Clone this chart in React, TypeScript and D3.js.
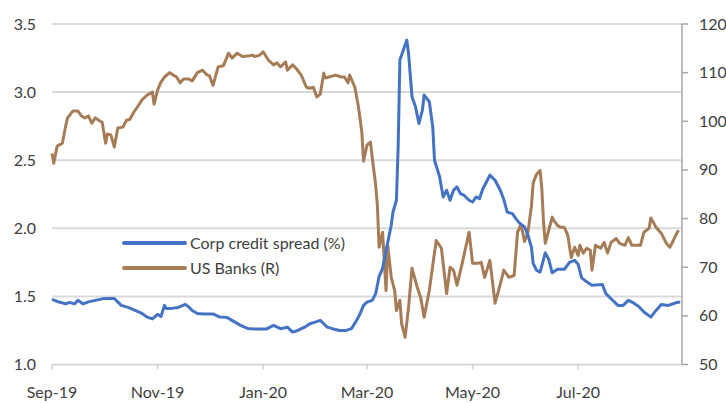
import React from "react";
import * as d3 from "d3";

// Dates are stored as day offsets from 2019-09-01
const START = new Date(2019, 8, 1);

const spreadDays = [0, 3, 8, 10, 13, 15, 18, 21, 25, 29, 32, 36, 40, 44, 48, 52, 55, 58, 61, 63, 65, 66, 69, 73, 77, 79, 81, 84, 88, 93, 97, 101, 104, 109, 113, 117, 120, 124, 128, 132, 136, 139, 142, 146, 149, 152, 155, 157, 159, 162, 166, 170, 173, 176, 178, 180, 182, 185, 187, 189, 191, 193, 196, 197, 199, 200, 201, 203, 205, 206, 208, 210, 212, 214, 215, 218, 220, 221, 224, 226, 228, 230, 232, 234, 236, 238, 241, 243, 245, 247, 249, 251, 253, 256, 259, 261, 263, 266, 268, 270, 273, 275, 277, 278, 280, 282, 285, 287, 289, 292, 296, 299, 302, 304, 306, 309, 312, 318, 320, 323, 327, 330, 333, 336, 339, 342, 346, 349, 352, 356, 359, 361, 363];
const spreadValues = [1.478, 1.463, 1.445, 1.456, 1.445, 1.471, 1.445, 1.46, 1.471, 1.482, 1.485, 1.485, 1.434, 1.419, 1.397, 1.375, 1.348, 1.335, 1.368, 1.353, 1.434, 1.412, 1.412, 1.419, 1.441, 1.423, 1.397, 1.375, 1.371, 1.371, 1.348, 1.346, 1.324, 1.287, 1.265, 1.261, 1.261, 1.261, 1.287, 1.263, 1.274, 1.238, 1.25, 1.274, 1.299, 1.311, 1.324, 1.299, 1.274, 1.263, 1.25, 1.25, 1.263, 1.324, 1.373, 1.434, 1.458, 1.471, 1.52, 1.647, 1.704, 1.838, 2.022, 2.118, 2.206, 2.598, 3.235, 3.309, 3.382, 3.285, 2.965, 2.892, 2.77, 2.868, 2.978, 2.929, 2.745, 2.5, 2.377, 2.23, 2.279, 2.206, 2.279, 2.304, 2.255, 2.243, 2.206, 2.193, 2.23, 2.218, 2.292, 2.34, 2.39, 2.353, 2.279, 2.213, 2.12, 2.108, 2.071, 2.04, 2.01, 1.949, 1.86, 1.743, 1.691, 1.679, 1.82, 1.772, 1.673, 1.699, 1.699, 1.75, 1.765, 1.735, 1.636, 1.607, 1.581, 1.588, 1.52, 1.483, 1.434, 1.434, 1.471, 1.452, 1.426, 1.385, 1.348, 1.397, 1.441, 1.434, 1.446, 1.456, 1.458];

const bankDays = [0, 1, 3, 6, 8, 9, 12, 15, 17, 19, 21, 23, 25, 27, 29, 31, 32, 34, 36, 38, 41, 43, 45, 47, 50, 52, 55, 58, 59, 61, 63, 65, 68, 70, 72, 74, 76, 79, 81, 84, 87, 89, 91, 93, 96, 99, 102, 104, 107, 110, 113, 116, 117, 120, 122, 125, 128, 130, 132, 135, 136, 139, 141, 144, 147, 149, 151, 153, 155, 157, 158, 160, 164, 167, 169, 171, 172, 175, 177, 179, 180, 182, 184, 185, 187, 188, 189, 191, 193, 194, 196, 198, 199, 201, 202, 203, 204, 206, 208, 211, 213, 215, 218, 220, 222, 225, 228, 230, 232, 234, 237, 241, 243, 246, 248, 250, 253, 256, 258, 260, 261, 264, 267, 269, 271, 273, 275, 277, 278, 280, 282, 283, 284, 285, 287, 289, 290, 292, 294, 296, 298, 300, 302, 304, 305, 307, 309, 311, 312, 314, 317, 319, 321, 323, 326, 328, 331, 333, 335, 338, 340, 342, 345, 346, 349, 352, 355, 357, 359, 361, 362];
const bankValues = [93.4, 91.4, 94.9, 95.5, 99.2, 100.7, 102.1, 102.1, 101.1, 100.7, 101.1, 99.6, 100.7, 100.2, 99.8, 95.5, 97.4, 97.2, 94.7, 98.6, 98.8, 100.2, 100.4, 101.7, 103.3, 104.4, 105.4, 106.0, 103.5, 106.4, 108.1, 109.1, 110.0, 109.5, 109.1, 107.9, 108.7, 108.7, 108.3, 110.0, 110.5, 109.7, 109.3, 107.4, 111.2, 111.4, 114.0, 113.0, 114.0, 113.3, 113.4, 113.6, 113.3, 113.6, 114.3, 112.6, 111.6, 112.0, 111.2, 112.2, 110.5, 111.6, 110.9, 109.5, 107.0, 106.8, 107.0, 105.0, 105.6, 109.9, 108.9, 109.1, 109.5, 109.1, 109.1, 107.9, 109.5, 107.0, 103.1, 97.8, 91.8, 95.1, 95.7, 92.6, 86.9, 82.7, 74.1, 77.2, 65.2, 74.5, 67.9, 65.2, 61.1, 63.2, 58.4, 57.0, 55.6, 61.7, 69.8, 65.9, 63.8, 59.7, 65.2, 70.4, 75.5, 73.9, 64.6, 70.0, 69.4, 66.3, 70.8, 77.2, 70.8, 70.8, 71.0, 67.9, 71.4, 62.6, 65.2, 67.9, 69.4, 67.9, 68.3, 77.2, 78.8, 75.3, 77.2, 82.5, 87.3, 89.1, 89.9, 86.2, 79.2, 74.9, 77.6, 80.3, 79.6, 78.6, 78.2, 78.2, 76.6, 72.0, 74.1, 72.4, 74.5, 72.9, 73.9, 73.5, 69.4, 74.5, 73.9, 75.1, 72.9, 75.1, 75.9, 74.9, 74.5, 76.1, 74.5, 74.5, 74.5, 77.2, 78.0, 80.1, 78.2, 77.0, 74.9, 74.1, 75.5, 77.0, 77.6];

const leftTicks = [1.0, 1.5, 2.0, 2.5, 3.0, 3.5];
const rightTicks = [50, 60, 70, 80, 90, 100, 110, 120];
const xTickMonths = ["2019-09", "2019-11", "2020-01", "2020-03", "2020-05", "2020-07"];

const seriesNames = ["Corp credit spread (%)", "US Banks (R)"];
const colors = ["#4472C4", "#A67C57"];

const W = 726;
const H = 403;
const FONT = "Lato, 'Open Sans', sans-serif";
const TEXT = "#404040";

export default function App() {
  const x = d3
    .scaleTime()
    .domain([START, d3.timeDay.offset(START, 364)])
    .range([52, 682]);
  const yL = d3.scaleLinear().domain([1, 3.5]).range([364.5, 24]);
  const yR = d3.scaleLinear().domain([50, 120]).range([364.5, 24]);

  const spread = spreadDays.map((d, i) => ({ date: d3.timeDay.offset(START, d), v: spreadValues[i] }));
  const bank = bankDays.map((d, i) => ({ date: d3.timeDay.offset(START, d), v: bankValues[i] }));

  const spreadLine = d3
    .line<{ date: Date; v: number }>()
    .x((d) => x(d.date))
    .y((d) => yL(d.v));
  const bankLine = d3
    .line<{ date: Date; v: number }>()
    .x((d) => x(d.date))
    .y((d) => yR(d.v));

  const parseMonth = d3.timeParse("%Y-%m");
  const fmtMonth = d3.timeFormat("%b-%y");
  const xTicks = xTickMonths.map((m) => parseMonth(m) as Date);

  const legendY = [243, 268];

  return (
    <div style={{ position: "absolute", left: 0, top: 0 }}>
      <svg width={W} height={H} style={{ display: "block", background: "#fff" }} fontFamily={FONT}>
        {/* gridlines */}
        {leftTicks
          .filter((t) => t > 1)
          .map((t) => (
            <line key={"g" + t} x1={52} x2={682} y1={yL(t)} y2={yL(t)} stroke="#d9d9d9" strokeWidth={2} />
          ))}
        {/* bottom axis */}
        <line x1={52} x2={682} y1={yL(1)} y2={yL(1)} stroke="#d0d0d0" strokeWidth={1.5} />
        {xTicks.map((t, i) => (
          <g key={"xt" + i}>
            <line x1={x(t)} x2={x(t)} y1={yL(1)} y2={yL(1) + 5} stroke="#d0d0d0" strokeWidth={1.5} />
            <text x={x(t)} y={398} textAnchor="middle" fontSize={16} fill={TEXT}>
              {fmtMonth(t)}
            </text>
          </g>
        ))}
        {/* left labels */}
        {leftTicks.map((t) => (
          <text key={"l" + t} x={36} y={yL(t) + 5.5} textAnchor="end" fontSize={16} fill={TEXT}>
            {d3.format(".1f")(t)}
          </text>
        ))}
        {/* right axis */}
        <line x1={682} x2={682} y1={yR(120)} y2={yR(50)} stroke="#a6a6a6" strokeWidth={1.5} />
        {rightTicks.map((t) => (
          <g key={"r" + t}>
            <line x1={682} x2={688} y1={yR(t)} y2={yR(t)} stroke="#a6a6a6" strokeWidth={1.5} />
            <text x={699} y={yR(t) + 5.5} textAnchor="start" fontSize={16} fill={TEXT}>
              {t}
            </text>
          </g>
        ))}
        {/* series */}
        <path d={bankLine(bank) || ""} fill="none" stroke={colors[1]} strokeWidth={3} strokeLinejoin="round" />
        <path d={spreadLine(spread) || ""} fill="none" stroke={colors[0]} strokeWidth={3} strokeLinejoin="round" />
        {/* legend */}
        {seriesNames.map((n, i) => (
          <g key={n}>
            <line x1={124} x2={185} y1={legendY[i]} y2={legendY[i]} stroke={colors[i]} strokeWidth={4} strokeLinecap="round" />
            <text x={190} y={legendY[i] + 5.5} fontSize={16} fill={TEXT}>
              {n}
            </text>
          </g>
        ))}
      </svg>
    </div>
  );
}
